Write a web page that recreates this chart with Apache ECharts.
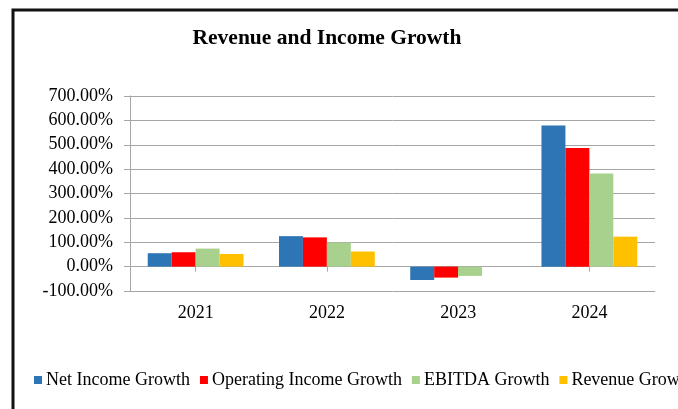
<!DOCTYPE html>
<html>
<head>
<meta charset="utf-8">
<script src="https://cdn.jsdelivr.net/npm/echarts@6/dist/echarts.min.js"></script>
<style>
  html, body { margin: 0; padding: 0; background: #fff; }
  #chart { width: 678px; height: 409px; }
</style>
</head>
<body>
<div id="chart"></div>
<script>
// Year-over-year growth rates, in percent
const years = ['2021', '2022', '2023', '2024'];
const netIncomeGrowth = [55, 125, -55, 579];
const operatingIncomeGrowth = [59, 120, -45, 487];
const ebitdaGrowth = [74, 99, -38, 382];
const revenueGrowth = [52, 62, null, 123];
const seriesNames = ['Net Income Growth', 'Operating Income Growth', 'EBITDA Growth', 'Revenue Growth'];
const seriesColors = ['#2E75B6', '#FF0000', '#A9D18E', '#FFC000'];

const fontFamily = '"Liberation Serif", "DejaVu Serif", serif';
const axisGrey = '#a6a6a6';

const chart = echarts.init(document.getElementById('chart'), null, { renderer: 'canvas' });

const values = [netIncomeGrowth, operatingIncomeGrowth, ebitdaGrowth, revenueGrowth];

chart.setOption({
  animation: false,
  backgroundColor: '#fff',
  title: {
    text: 'Revenue and Income Growth',
    left: 327,
    top: 27,
    textAlign: 'center',
    padding: 0,
    textStyle: { fontFamily, fontWeight: 'bold', fontSize: 21.5, color: '#000' }
  },
  graphic: [{
    type: 'rect',
    shape: { x: 13, y: 10, width: 720, height: 520 },
    style: { fill: 'none', stroke: '#111', lineWidth: 3 },
    silent: true,
    z: 100
  }],
  legend: {
    data: seriesNames,
    left: 34,
    top: 371,
    width: 900,
    padding: 0,
    itemWidth: 8,
    itemHeight: 8,
    itemGap: 10,
    icon: 'rect',
    textStyle: { fontFamily, fontSize: 18, color: '#000', padding: [0, 0, 0, -1] }
  },
  grid: { left: 130, right: 23, top: 96, bottom: 118, containLabel: false },
  xAxis: [
    {
      // year labels along the bottom of the plot
      type: 'category',
      data: years,
      position: 'bottom',
      axisLine: { show: false, onZero: false },
      axisTick: { show: false },
      axisLabel: { fontFamily, fontSize: 18, color: '#000', margin: 13 }
    },
    {
      // category axis line and ticks on the zero line
      type: 'category',
      data: years,
      position: 'bottom',
      axisLine: { show: true, onZero: true, onZeroAxisIndex: 0, lineStyle: { color: axisGrey, width: 1 } },
      axisTick: { show: true, alignWithLabel: true, length: 5, lineStyle: { color: axisGrey } },
      axisLabel: { show: false }
    }
  ],
  yAxis: {
    type: 'value',
    min: -100,
    max: 700,
    interval: 100,
    axisLine: { show: true, lineStyle: { color: axisGrey, width: 1 } },
    axisTick: { show: true, length: 6, lineStyle: { color: axisGrey } },
    splitLine: { show: true, lineStyle: { color: axisGrey, width: 1 } },
    axisLabel: {
      fontFamily, fontSize: 18, color: '#000', margin: 17,
      formatter: v => v.toFixed(2) + '%'
    }
  },
  series: seriesNames.map((name, i) => ({
    name,
    type: 'bar',
    data: values[i],
    itemStyle: { color: seriesColors[i] },
    barGap: '0%',
    barCategoryGap: '27%'
  }))
});
</script>
</body>
</html>
